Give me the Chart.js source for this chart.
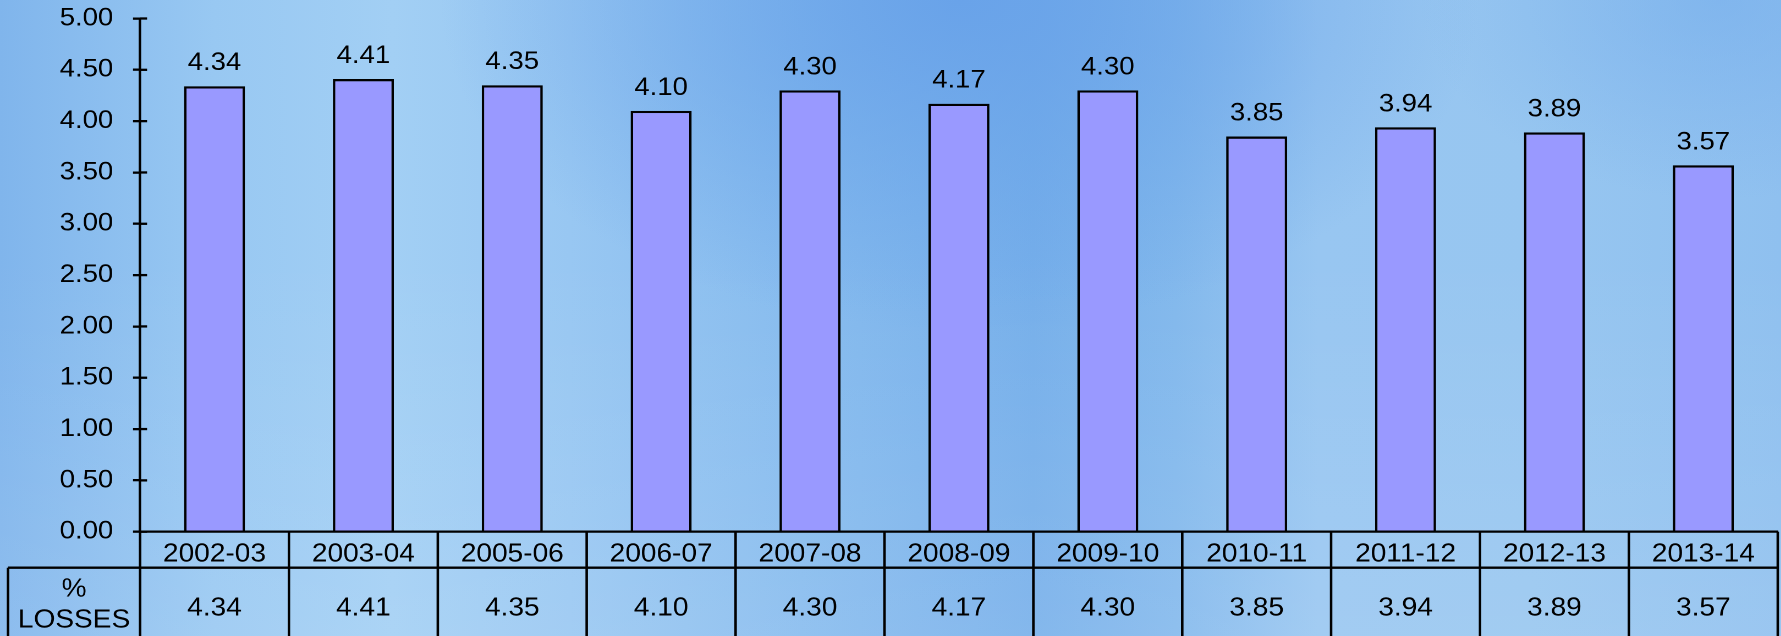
<!DOCTYPE html>
<html lang="en">
<head>
  <meta charset="UTF-8" />
  <title>% Losses 2002-03 to 2013-14</title>
  <script src="https://cdn.jsdelivr.net/npm/chart.js"></script>
  <style>
    html, body {
      margin: 0;
      padding: 0;
    }

    body {
      width: 1781px;
      height: 636px;
      overflow: hidden;
      background:
        radial-gradient(ellipse 520px 330px at 960px 0px, rgba(104, 162, 233, 0.95), rgba(104, 162, 233, 0)),
        radial-gradient(ellipse 300px 200px at 1720px 0px, rgba(118, 174, 236, 0.6), rgba(118, 174, 236, 0)),
        linear-gradient(180deg, rgba(255, 255, 255, 0) 40%, rgba(255, 255, 255, 0.1) 100%),
        linear-gradient(90deg, #80b5ec 0%, #98c8f2 12%, #a2cff4 22%, #98c7f2 32%, #86bbee 45%, #76afea 58%, #82b8ec 66%, #98c6f1 74%, #97c6f0 86%, #8fc0ef 100%);
    }

    /* the slide is a little wider than its fonts, so the canvas is stretched sideways */
    #wrap {
      width: 1619px;
      height: 636px;
      transform: scaleX(1.1001);
      transform-origin: 0 0;
    }
  </style>
</head>
<body>
  <div id="wrap">
    <canvas id="lossChart" width="1619" height="636"></canvas>
  </div>

  <script>
    const years = ["2002-03", "2003-04", "2005-06", "2006-07", "2007-08", "2008-09",
                   "2009-10", "2010-11", "2011-12", "2012-13", "2013-14"];
    const lossPct = [4.34, 4.41, 4.35, 4.10, 4.30, 4.17, 4.30, 3.85, 3.94, 3.89, 3.57];
    const rowLabel = ["%", "LOSSES"];
    const yMin = 0;
    const yMax = 5;
    const yStep = 0.5;

    const FONT = "'Liberation Sans', Arial, sans-serif";
    const LINE = 2.3;
    const TICK = 6.4;

    // value labels, the inner half of the y ticks and the data table under the axis
    const extras = {
      id: "extras",
      afterDraw(chart) {
        const ctx = chart.ctx;
        const area = chart.chartArea;
        const xs = chart.scales.x;
        const ys = chart.scales.y;

        ctx.save();
        ctx.strokeStyle = "#000";
        ctx.lineWidth = LINE;

        ys.ticks.forEach(t => {
          const y = ys.getPixelForValue(t.value);
          ctx.beginPath();
          ctx.moveTo(area.left, y);
          ctx.lineTo(area.left + TICK, y);
          ctx.stroke();
        });

        ctx.fillStyle = "#000";
        ctx.font = "25px " + FONT;
        ctx.textAlign = "center";
        ctx.textBaseline = "alphabetic";

        chart.getDatasetMeta(0).data.forEach((bar, i) => {
          ctx.fillText(lossPct[i].toFixed(2), bar.x, bar.y - 16);
        });

        // table
        const top = area.bottom;
        const rowSplit = top + 36;
        const bottom = chart.height + 2;
        const tableLeft = 7.3;

        const edges = [area.left];
        for (let i = 0; i < years.length - 1; i++) {
          edges.push((xs.getPixelForValue(i) + xs.getPixelForValue(i + 1)) / 2);
        }
        edges.push(area.right);

        ctx.beginPath();
        ctx.moveTo(tableLeft, rowSplit);
        ctx.lineTo(area.right, rowSplit);
        ctx.moveTo(tableLeft, rowSplit);
        ctx.lineTo(tableLeft, bottom);
        edges.forEach(x => {
          ctx.moveTo(x, top);
          ctx.lineTo(x, bottom);
        });
        ctx.stroke();

        ctx.font = "25.5px " + FONT;
        years.forEach((yr, i) => {
          const cx = xs.getPixelForValue(i);
          ctx.fillText(yr, cx, top + 30);
          ctx.fillText(lossPct[i].toFixed(2), cx, rowSplit + 48);
        });

        const lx = (tableLeft + area.left) / 2;
        ctx.fillText(rowLabel[0], lx, rowSplit + 29);
        ctx.fillText(rowLabel[1], lx, rowSplit + 60);

        ctx.restore();
      }
    };

    new Chart(document.getElementById("lossChart"), {
      type: "bar",
      data: {
        labels: years,
        datasets: [{
          data: lossPct,
          backgroundColor: "#9999ff",
          borderColor: "#000",
          borderWidth: LINE,
          borderSkipped: "bottom",
          categoryPercentage: 1,
          barPercentage: 0.41
        }]
      },
      options: {
        responsive: false,
        animation: false,
        devicePixelRatio: 2,
        layout: {
          padding: { top: 18.5, right: 3, left: 0, bottom: 0 }
        },
        plugins: {
          legend: { display: false },
          tooltip: { enabled: false }
        },
        scales: {
          x: {
            grid: { display: false },
            border: { display: true, color: "#000", width: LINE },
            ticks: { display: false },
            afterFit: s => {
              s.height = 104.3;
              s.paddingLeft = 0;
              s.paddingRight = 0;
            }
          },
          y: {
            min: yMin,
            max: yMax,
            ticks: {
              stepSize: yStep,
              color: "#000",
              padding: 18,
              font: { family: FONT, size: 25 },
              callback: v => Number(v).toFixed(2)
            },
            grid: {
              drawOnChartArea: false,
              drawTicks: true,
              tickLength: TICK,
              color: "#000",
              lineWidth: LINE
            },
            border: { display: true, color: "#000", width: LINE },
            afterFit: s => {
              s.width = 127.3;
              s.paddingTop = 0;
              s.paddingBottom = 0;
            }
          }
        }
      },
      plugins: [extras]
    });
  </script>
</body>
</html>
